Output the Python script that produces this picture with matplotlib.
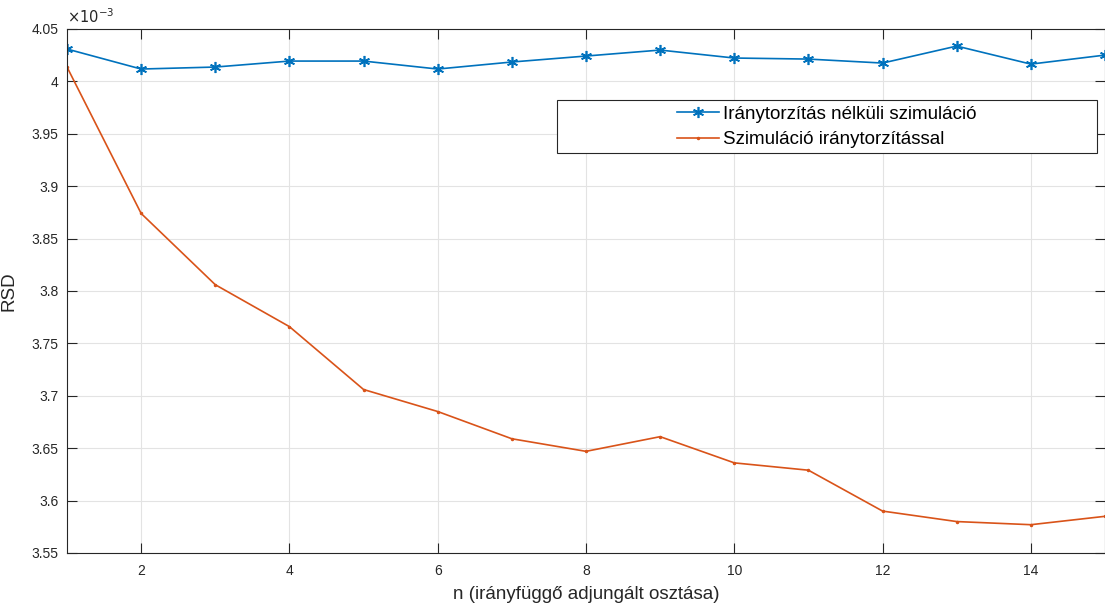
import numpy as np
import matplotlib.pyplot as plt
from matplotlib.patches import Rectangle
from matplotlib.ticker import FuncFormatter, MultipleLocator

plt.rcParams['font.family'] = ['Liberation Sans', 'DejaVu Sans']

n = np.arange(1, 16)
rsd_plain = np.array([4.0309, 4.0118, 4.0137, 4.0194, 4.0194, 4.0118, 4.0185, 4.0242,
                      4.0299, 4.0223, 4.0213, 4.0175, 4.0337, 4.0165, 4.0251]) * 1e-3
rsd_biased = np.array([4.0137, 3.874, 3.806, 3.766, 3.706, 3.685, 3.659, 3.647,
                       3.661, 3.636, 3.629, 3.590, 3.580, 3.577, 3.585]) * 1e-3

labels = ['Iránytorzítás nélküli szimuláció', 'Szimuláció iránytorzítással']

W, H = 1105, 603
fig = plt.figure(figsize=(W / 100, H / 100), dpi=100)
ax = fig.add_axes([67 / W, 50 / H, 1 - 67 / W, 524 / H])

ax.plot(n, rsd_plain, '-', color='#0072BD', marker=(6, 2, 0), markersize=8,
        markeredgewidth=1.2, linewidth=1.2, label=labels[0])
ax.plot(n, rsd_biased, '-', color='#D95319', marker='.', markersize=3,
        linewidth=1.2, label=labels[1])

ax.set_xlim(1, 15)
ax.set_ylim(3.55e-3, 4.05e-3)
ax.xaxis.set_major_locator(MultipleLocator(2))
ax.yaxis.set_major_locator(MultipleLocator(0.05e-3))
ax.yaxis.set_major_formatter(FuncFormatter(lambda v, p: '%g' % round(v * 1e3, 3)))
ax.tick_params(direction='in', top=True, right=True, labelsize=10,
               colors='#262626', length=7, width=0.8)
ax.tick_params(axis='x', pad=8)
ax.tick_params(axis='y', pad=6)
ax.grid(True, color='#e3e3e3', linewidth=0.8)
for s in ax.spines.values():
    s.set_color('#262626')
    s.set_linewidth(0.8)

ax.text(0, 1.006, r'$\times10^{-3}$', transform=ax.transAxes, fontsize=10.5,
        color='#262626', ha='left', va='bottom')
ax.set_xlabel('n (irányfüggő adjungált osztása)', fontsize=13.5, color='#262626',
              labelpad=6)
ax.set_ylabel('RSD', fontsize=13.5, color='#262626', labelpad=10)

# legend entries centred inside a wide box
leg = ax.legend(loc='center', bbox_to_anchor=(827 / W, 1 - 127 / H),
                bbox_transform=fig.transFigure, fontsize=13.5, frameon=False,
                handlelength=2.2, handletextpad=0.25, labelspacing=0.45,
                borderaxespad=0, borderpad=0)
box = Rectangle((557 / W, 1 - 153 / H), 540 / W, 53 / H, transform=fig.transFigure,
                facecolor='white', edgecolor='#262626', linewidth=0.8, zorder=4)
ax.add_artist(box)
box.set_clip_on(False)
leg.set_zorder(5)

fig.savefig('out.png', dpi=100)
